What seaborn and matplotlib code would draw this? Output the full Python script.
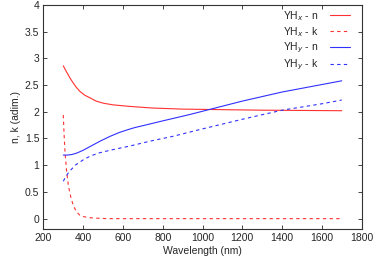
import numpy as np
import pandas as pd
import matplotlib
matplotlib.use("Agg")
import matplotlib.pyplot as plt
import seaborn as sns

sns.set_style("ticks")
plt.rcParams['font.family'] = ['Liberation Sans', 'DejaVu Sans']

# Data
wl_x_n = [300, 310, 322, 334, 348, 365, 384, 408, 435, 465, 502, 550, 636, 750, 900, 1100, 1300, 1500, 1700]
yhx_n = [2.86, 2.79, 2.71, 2.63, 2.55, 2.46, 2.38, 2.31, 2.26, 2.20, 2.16, 2.13, 2.10, 2.07, 2.05, 2.04, 2.03, 2.025, 2.02]

wl_x_k = [300, 304, 309, 317, 326, 338, 351, 366, 384, 405, 426, 460, 520, 700, 1000, 1400, 1700]
yhx_k = [1.94, 1.58, 1.23, 0.88, 0.61, 0.40, 0.24, 0.13, 0.06, 0.035, 0.02, 0.01, 0.0, 0.0, 0.0, 0.0, 0.0]

wl_y_n = [300, 320, 343, 370, 400, 435, 485, 535, 580, 620, 660, 700, 800, 937, 1021, 1200, 1400, 1600, 1700]
yhy_n = [1.19, 1.19, 1.20, 1.23, 1.28, 1.35, 1.45, 1.54, 1.61, 1.66, 1.705, 1.74, 1.83, 1.95, 2.03, 2.20, 2.37, 2.51, 2.58]

wl_y_k = [300, 315, 330, 360, 400, 435, 480, 535, 636, 736, 850, 1000, 1200, 1400, 1600, 1700]
yhy_k = [0.70, 0.80, 0.88, 1.00, 1.10, 1.17, 1.23, 1.28, 1.36, 1.45, 1.54, 1.68, 1.86, 2.03, 2.15, 2.22]

xticks = [200, 400, 600, 800, 1000, 1200, 1400, 1600, 1800]
yticks = [0, 0.5, 1, 1.5, 2, 2.5, 3, 3.5, 4]

fig = plt.figure(figsize=(3.74, 2.60), dpi=100)
ax = fig.add_axes([0.116, 0.118, 0.851, 0.863])

red = "#ff3030"
blue = "#3030ff"
lw = 0.8
sns.lineplot(x=wl_x_n, y=yhx_n, ax=ax, color=red, lw=lw, label="YH$_x$ - n")
sns.lineplot(x=wl_x_k, y=yhx_k, ax=ax, color=red, lw=lw, label="YH$_x$ - k")
sns.lineplot(x=wl_y_n, y=yhy_n, ax=ax, color=blue, lw=lw, label="YH$_y$ - n")
sns.lineplot(x=wl_y_k, y=yhy_k, ax=ax, color=blue, lw=lw, label="YH$_y$ - k")
lines = ax.get_lines()
lines[1].set_dashes([3, 3])
lines[3].set_dashes([3, 3])

ax.set_xlim(200, 1800)
ax.set_ylim(-0.2, 4)
ax.set_xticks(xticks)
ax.set_xticklabels([str(t) for t in xticks])
ax.set_yticks(yticks)
ax.set_yticklabels([f"{t:g}" for t in yticks])
ax.tick_params(direction="in", top=True, right=True, labelsize=7.5, length=3, width=0.6, pad=3)
for s in ax.spines.values():
    s.set_linewidth(0.8)
    s.set_color("#333333")
ax.set_xlabel("Wavelength (nm)", fontsize=7.5, labelpad=2)
ax.set_ylabel("n, k (adim.)", fontsize=7.5, labelpad=3)

handles, labels = ax.get_legend_handles_labels()
leg = ax.legend(handles, labels, loc="upper right", frameon=False, markerfirst=False,
                fontsize=7.5, handlelength=1.9, labelspacing=0.22,
                bbox_to_anchor=(0.985, 1.015), borderaxespad=0.3, handletextpad=1.1)
leg.legend_handles[1].set_dashes([3, 3])
leg.legend_handles[3].set_dashes([3, 3])

fig.savefig("out.png", dpi=100)
